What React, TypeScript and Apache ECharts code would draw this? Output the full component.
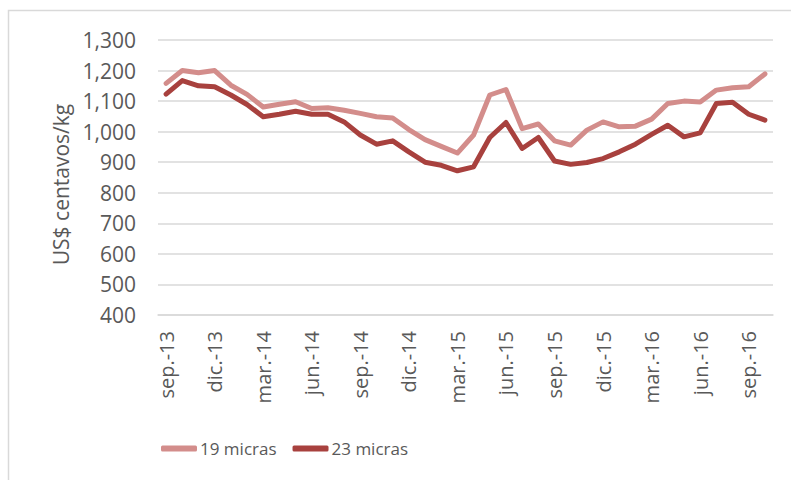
import React, { useEffect, useRef } from "react";
import * as echarts from "echarts";

const months = ["ene.", "feb.", "mar.", "abr.", "may.", "jun.", "jul.", "ago.", "sep.", "oct.", "nov.", "dic."];
// sep-13 .. oct-16
const categories: string[] = [];
for (let y = 2013, m = 8; !(y === 2016 && m === 10); ) {
  categories.push(months[m] + "-" + String(y).slice(2));
  m++;
  if (m === 12) { m = 0; y++; }
}

const micras19 = [
  1158, 1200, 1193, 1200, 1152, 1122, 1081, 1090, 1098, 1076,
  1078, 1070, 1060, 1049, 1045, 1007, 974, 952, 930, 989,
  1120, 1138, 1010, 1025, 970, 956, 1005, 1032, 1016, 1018,
  1041, 1092, 1100, 1097, 1136, 1144, 1147, 1189,
];
const micras23 = [
  1123, 1167, 1150, 1147, 1120, 1089, 1049, 1057, 1067, 1057,
  1057, 1032, 989, 959, 970, 934, 900, 890, 872, 885,
  981, 1030, 945, 981, 904, 893, 899, 912, 934, 959,
  991, 1021, 983, 996, 1092, 1096, 1057, 1038,
];

const seriesNames = ["19 micras", "23 micras"];
const colors = ["#D38D8B", "#A8413E"];

export default function App() {
  const ref = useRef<HTMLDivElement>(null);
  useEffect(() => {
    if (!ref.current) return;
    const chart = echarts.init(ref.current, null, { renderer: "svg" });
    const font = "'Open Sans', 'Noto Sans', sans-serif";
    chart.setOption({
      animation: false,
      backgroundColor: "#ffffff",
      textStyle: { fontFamily: font, color: "#595959" },
      graphic: [
        {
          type: "rect",
          shape: { x: 8.5, y: 10.5, width: 800, height: 500 },
          style: { fill: "none", stroke: "#D9D9D9", lineWidth: 1.5 },
          silent: true,
        },
      ],
      grid: { left: 158, right: 18, top: 40, bottom: 165, containLabel: false },
      legend: {
        data: seriesNames,
        top: 435,
        left: 156,
        icon: "roundRect",
        itemWidth: 36,
        itemHeight: 6,
        itemGap: 16,
        textStyle: { fontFamily: font, fontSize: 17, color: "#595959", padding: [0, 0, 0, -2] },
      },
      xAxis: {
        type: "category",
        data: categories,
        boundaryGap: true,
        axisLine: { show: true, lineStyle: { color: "#D9D9D9", width: 1.5 } },
        axisTick: { show: false },
        axisLabel: {
          rotate: 90,
          interval: 2,
          margin: 16,
          fontSize: 20,
          color: "#595959",
          fontFamily: font,
        },
      },
      yAxis: {
        type: "value",
        min: 400,
        max: 1300,
        interval: 100,
        name: "US$ centavos/kg",
        nameLocation: "middle",
        nameGap: 80,
        nameTextStyle: { fontSize: 21, color: "#595959", fontFamily: font, padding: [0, 14, 0, 0] },
        axisLine: { show: false },
        axisTick: { show: false },
        axisLabel: {
          fontSize: 21,
          margin: 22,
          color: "#595959",
          fontFamily: font,
          formatter: (v: number) => v.toLocaleString("en-US"),
        },
        splitLine: { lineStyle: { color: "#D9D9D9", width: 1.5 } },
      },
      series: [
        {
          name: seriesNames[0],
          type: "line",
          data: micras19,
          symbol: "none",
          lineStyle: { width: 5, color: colors[0], cap: "round", join: "round" },
          itemStyle: { color: colors[0] },
        },
        {
          name: seriesNames[1],
          type: "line",
          data: micras23,
          symbol: "none",
          lineStyle: { width: 5, color: colors[1], cap: "round", join: "round" },
          itemStyle: { color: colors[1] },
        },
      ],
    });
    return () => chart.dispose();
  }, []);
  return <div ref={ref} style={{ width: 791, height: 480, position: "absolute", left: 0, top: 0 }} />;
}
